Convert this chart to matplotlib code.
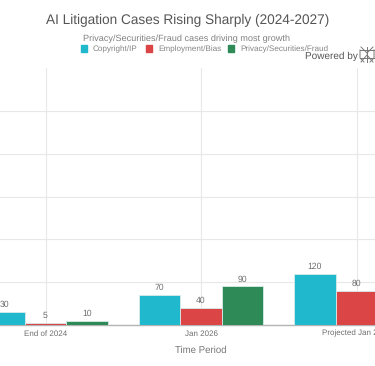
import matplotlib
matplotlib.use("Agg")
import matplotlib.pyplot as plt
from matplotlib.patches import Rectangle
import numpy as np

categories = ["End of 2024", "Jan 2026", "Projected Jan 2027"]
copyright_ip = [30, 70, 120]
employment = [5, 40, 80]
# third green bar sits outside the crop, its value can't be read
privacy = [10, 90, None]
y_ticks = [0, 100, 200, 300, 400, 500]

plt.rcParams["font.family"] = ["Liberation Sans", "DejaVu Sans"]
plt.rcParams["text.hinting"] = "no_hinting"
GREY = "#6e6e6e"
W, H = 375, 366

fig = plt.figure(figsize=(3.75, 3.66), dpi=100)
ax = fig.add_axes([0, (H - 325) / H, 1, (325 - 68) / H])
ax.set_xlim(-45.5 / 155.5, (W - 45.5) / 155.5)
ax.set_ylim(0, 600)

width = 41.5 / 155.5
x = np.arange(len(categories))
series = [(copyright_ip, "#1FB8CD", -1), (employment, "#DB4545", 0), (privacy, "#2E8B57", 1)]

for values, colour, offset in series:
    for xi, v in zip(x, values):
        if v is None:
            continue
        ax.bar(xi + offset * width, v, width, color=colour, edgecolor="#d8ecec", linewidth=0.6, zorder=3)
        ax.text(xi + offset * width, v + 7, str(v), ha="center", va="bottom", fontsize=6.2, color=GREY, zorder=4)

ax.set_xticks(x, categories)
ax.set_yticks(y_ticks)
ax.tick_params(axis="both", length=0, labelleft=False, labelsize=5.8, labelcolor=GREY, pad=3.5)
ax.grid(True, color="#e8e8e8", linewidth=0.8, zorder=0)
ax.set_axisbelow(True)
for side in ["top", "right", "left"]:
    ax.spines[side].set_visible(False)
ax.spines["bottom"].set_color("#b4b4b4")
ax.spines["bottom"].set_linewidth(1.0)
ax.spines["bottom"].set_zorder(2)

fig.text(187.5 / W, 1 - 20.5 / H, "AI Litigation Cases Rising Sharply (2024-2027)", ha="center", va="center", fontsize=9.8, color="#555555")
fig.text(187 / W, 1 - 39 / H, "Privacy/Securities/Fraud cases driving most growth", ha="center", va="center", fontsize=6.6, color="#808080")
fig.text(201 / W, 1 - 350.5 / H, "Time Period", ha="center", va="center", fontsize=6.9, color="#777777")

legend_items = [("Copyright/IP", "#1FB8CD", 81, 93), ("Employment/Bias", "#DB4545", 146, 158), ("Privacy/Securities/Fraud", "#2E8B57", 228, 240)]
for label, colour, box_x, text_x in legend_items:
    fig.add_artist(Rectangle((box_x / W, 1 - 51.5 / H), 6 / W, 6 / H, transform=fig.transFigure, color=colour))
    fig.text(text_x / W, 1 - 49 / H, label, ha="left", va="center", fontsize=5.9, color="#858585")

fig.text(305 / W, 1 - 56 / H, "Powered by", ha="left", va="center", fontsize=7.2, color="#555555")
# little logo next to the credit
logo = [
    [(367, 47), (367, 62)],
    [(361, 47), (367, 53), (373, 47)],
    [(361, 62), (367, 55), (373, 62)],
    [(360, 50), (360, 58), (364, 62)],
    [(374, 50), (374, 58), (370, 62)],
    [(360, 50), (374, 50)],
    [(360, 58), (374, 58)],
]
for pts in logo:
    xs = [p[0] / W for p in pts]
    ys = [1 - p[1] / H for p in pts]
    fig.add_artist(plt.Line2D(xs, ys, transform=fig.transFigure, color="#777777", linewidth=0.7))

fig.savefig("out.png", dpi=100)
